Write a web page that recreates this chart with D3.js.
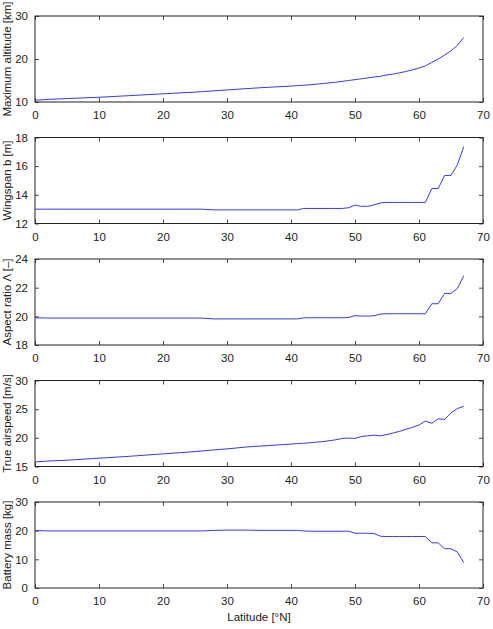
<!DOCTYPE html>
<html>
<head>
<meta charset="utf-8">
<script src="https://cdn.jsdelivr.net/npm/d3@7"></script>
<style>
  body { margin: 0; background: #fff; }
  svg text { font-family: "Liberation Sans", Arial, sans-serif; fill: #222; }
</style>
</head>
<body>
<svg id="chart" width="493" height="629"></svg>
<script>
const lat = [0,2,5,10,15,20,25,26,28,30,33,35,40,41,42,43,45,47,48,49,50,51,52,53,54,55,56,57,58,59,60,61,62,63,64,65,66,67]

const altitude = [10.4,10.6,10.8,11.1,11.5,11.9,12.3,12.4,12.6,12.8,13.1,13.3,13.7,13.8,13.9,14.0,14.3,14.6,14.8,15.0,15.2,15.4,15.6,15.8,16.0,16.3,16.5,16.8,17.1,17.5,17.9,18.4,19.2,20.0,20.9,21.9,23.2,25.0]
const wingspan = [13.0,13.0,13.0,13.0,13.0,13.0,13.0,13.0,12.95,12.95,12.95,12.95,12.95,12.95,13.05,13.05,13.05,13.05,13.05,13.1,13.28,13.2,13.2,13.3,13.44,13.47,13.47,13.47,13.47,13.47,13.47,13.47,14.44,14.44,15.35,15.35,16.1,17.37]
const aspect = [19.9,19.88,19.88,19.88,19.88,19.88,19.88,19.88,19.82,19.82,19.82,19.82,19.82,19.82,19.9,19.9,19.9,19.9,19.9,19.92,20.05,20.02,20.02,20.04,20.16,20.18,20.18,20.18,20.18,20.18,20.18,20.18,20.88,20.88,21.6,21.6,21.95,22.84]
const airspeed = [15.8,15.95,16.1,16.45,16.8,17.2,17.6,17.7,17.9,18.07,18.4,18.55,18.9,19.0,19.05,19.15,19.35,19.66,19.9,19.95,19.9,20.23,20.35,20.46,20.35,20.57,20.85,21.15,21.5,21.84,22.24,22.93,22.53,23.33,23.2,24.36,25.1,25.5]
const battery = [20.1,19.9,19.9,19.9,19.9,19.9,19.9,19.9,20.1,20.2,20.2,20.1,20.1,20.1,19.9,19.8,19.8,19.8,19.8,19.8,19.1,19.1,19.1,19.0,18.05,17.95,17.95,17.95,17.95,17.95,17.95,17.95,15.75,15.75,13.7,13.7,12.55,8.85]

const xTicks = [0,10,20,30,40,50,60,70]

const panels = [
  { label: 'Maximum altitude [km]', values: altitude, domain: [10,30], ticks: [10,20,30] },
  { label: 'Wingspan b [m]', values: wingspan, domain: [12,18], ticks: [12,14,16,18] },
  { label: 'Aspect ratio Λ [–]', values: aspect, domain: [18,24], ticks: [18,20,22,24] },
  { label: 'True airspeed [m/s]', values: airspeed, domain: [15,30], ticks: [15,20,25,30] },
  { label: 'Battery mass [kg]', values: battery, domain: [0,30], ticks: [0,10,20,30] }
]

const svg = d3.select('#chart')
const L = 35, R = 483, PH = 86, TOP0 = 16, STEP = 121.5, TICK = 4
const fmt = d3.format('d')

const x = d3.scaleLinear().domain([0,70]).range([L,R])

panels.forEach((p,i) => {
  const top = TOP0 + i*STEP
  const y = d3.scaleLinear().domain(p.domain).range([top+PH, top])
  const g = svg.append('g')

  // inward ticks on all four sides, like a boxed matlab axes
  g.append('g').attr('transform',`translate(0,${top+PH})`)
    .call(d3.axisBottom(x).tickValues(xTicks).tickSize(-TICK).tickPadding(9).tickFormat(fmt))
  g.append('g').attr('transform',`translate(0,${top})`)
    .call(d3.axisTop(x).tickValues(xTicks).tickSize(-TICK).tickFormat(''))
  g.append('g').attr('transform',`translate(${L},0)`)
    .call(d3.axisLeft(y).tickValues(p.ticks).tickSize(-TICK).tickPadding(7).tickFormat(fmt))
  g.append('g').attr('transform',`translate(${R},0)`)
    .call(d3.axisRight(y).tickValues(p.ticks).tickSize(-TICK).tickFormat(''))

  g.selectAll('.domain').remove()
  g.selectAll('.tick line').attr('stroke','#222').attr('stroke-width',0.8)
  g.selectAll('.tick text').attr('font-size',11.5).attr('fill','#222')
    .style('font-family','"Liberation Sans", Arial, sans-serif')

  g.append('rect').attr('x',L).attr('y',top).attr('width',R-L).attr('height',PH)
    .attr('fill','none').attr('stroke','#222').attr('stroke-width',1)

  const line = d3.line().x((d,k) => x(lat[k])).y(d => y(d))
  g.append('path').datum(p.values).attr('d',line)
    .attr('fill','none').attr('stroke','#3a3ae8').attr('stroke-width',1)

  g.append('text')
    .attr('transform',`translate(11,${top+PH/2}) rotate(-90)`)
    .attr('text-anchor','middle').attr('font-size',11.5)
    .text(p.label)
})

svg.append('text').attr('x',(L+R)/2).attr('y',621)
  .attr('text-anchor','middle').attr('font-size',11.5)
  .text('Latitude [°N]')
</script>
</body>
</html>
